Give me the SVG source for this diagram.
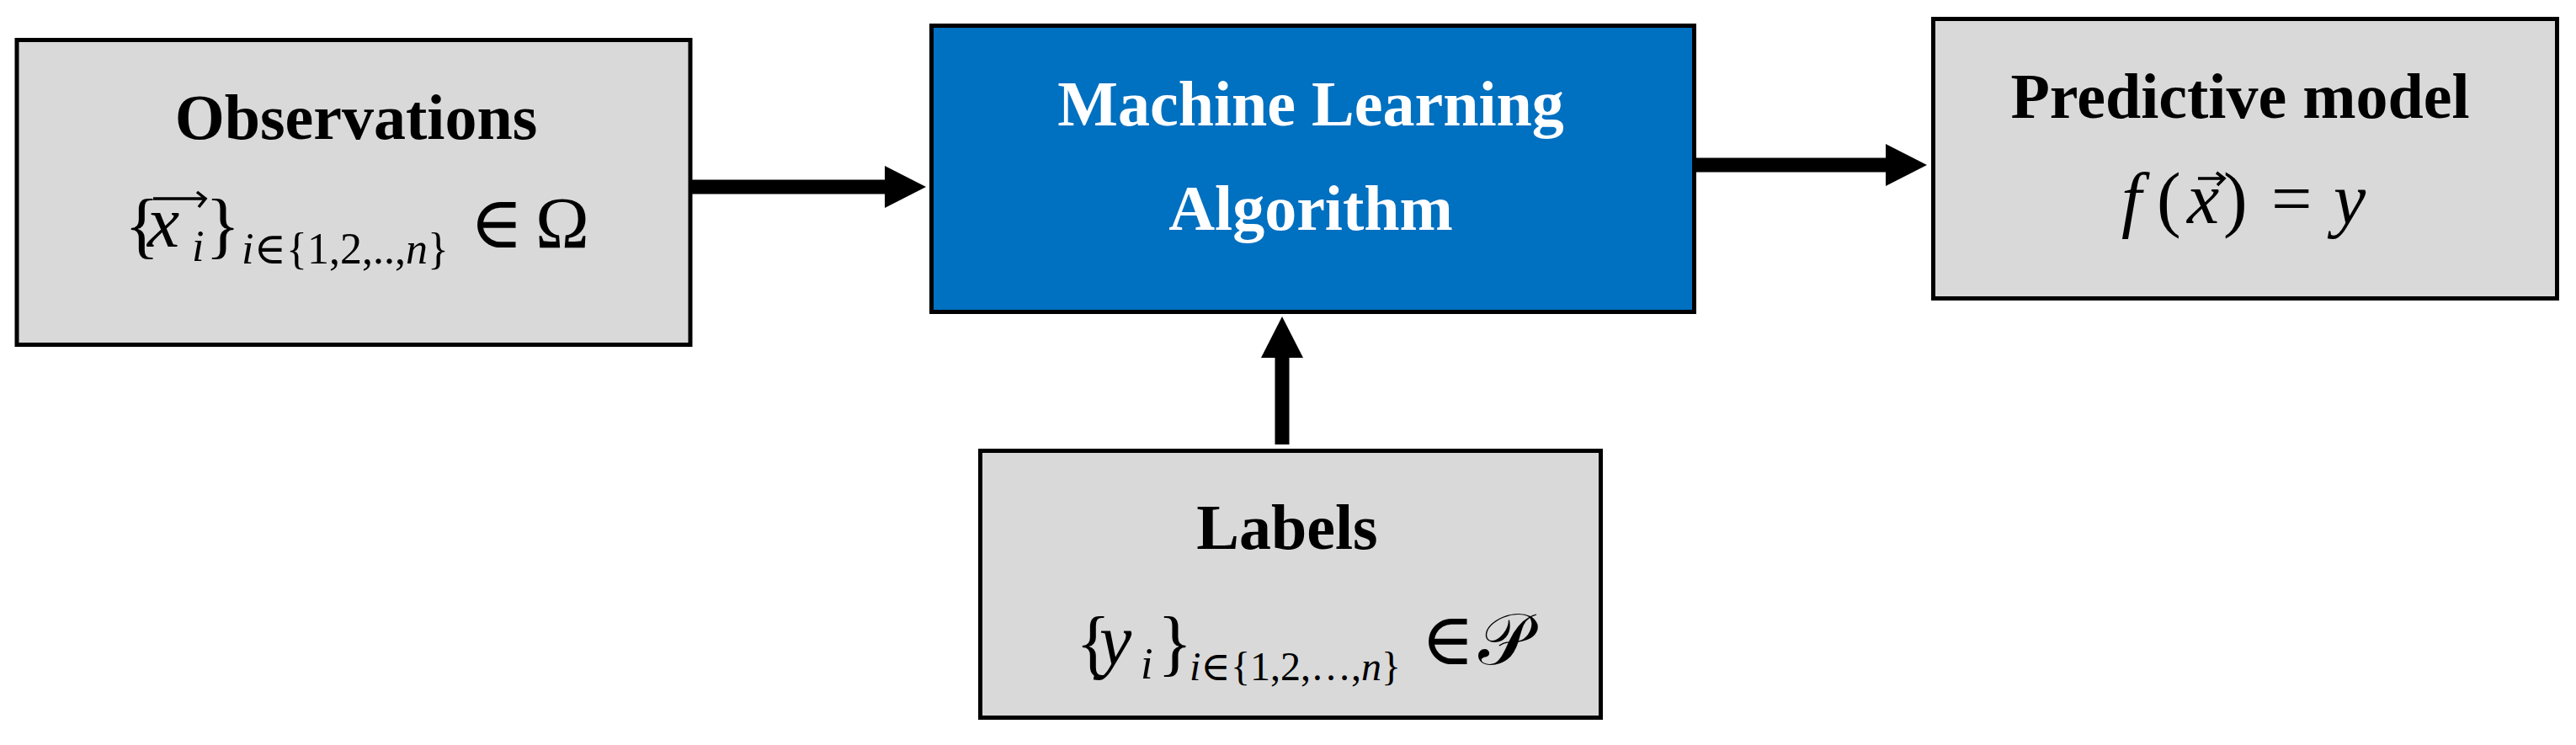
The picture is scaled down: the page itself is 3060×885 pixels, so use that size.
<svg xmlns="http://www.w3.org/2000/svg" width="3060" height="885" viewBox="0 0 3060 885">
<style>
.box{fill:#D9D9D9;stroke:#000;stroke-width:5}
.blue{fill:#0070C0;stroke:#000;stroke-width:5}
.title{font-family:"Liberation Serif","Times New Roman",serif;font-weight:bold;font-size:76px;fill:#000;text-anchor:middle}
.wt{fill:#fff}
.m{font-family:"Liberation Serif","DejaVu Serif",serif;font-size:86px;fill:#000}
.ms{font-size:52px}
.ms2{font-size:48px}
.it{font-style:italic}
.conn{stroke:#000;stroke-width:17;fill:none}
.acc{stroke:#000;stroke-width:3.5;fill:none}
</style>
<defs>
<marker id="ah" viewBox="0 0 49 50" refX="0" refY="25" markerWidth="49" markerHeight="50" markerUnits="userSpaceOnUse" orient="auto">
<path d="M0,0 L49,25 L0,50 Z" fill="#000"/>
</marker>
</defs>
<rect width="3060" height="885" fill="#fff"/>
<g id="connectors">
<path class="conn" d="M822,222 L1051,222" marker-end="url(#ah)"/>
<path class="conn" d="M2015,196 L2240,196" marker-end="url(#ah)"/>
<path class="conn" d="M1523,528 L1523,425" marker-end="url(#ah)"/>
</g>
<g id="observations">
<rect class="box" x="20" y="47.5" width="800" height="362"/>
<text class="title" x="423" y="165">Observations</text>
<text class="m" y="296"><tspan x="148">{</tspan><tspan class="it" x="175" y="293">x</tspan><tspan class="it ms" x="228" y="310">i</tspan><tspan x="244" y="296">}</tspan><tspan class="ms" x="287" y="313"><tspan class="it">i</tspan>∈{1,2,..,<tspan class="it">n</tspan>}</tspan><tspan x="558" y="294">∈</tspan><tspan x="636" y="294">Ω</tspan></text>
<path class="acc" d="M182,236 L243,236 M234,228 L244,236 L236,246"/>
</g>
<g id="ml-algorithm">
<rect class="blue" x="1106.5" y="30.5" width="906" height="340"/>
<text class="title wt" x="1557" y="149">Machine Learning</text>
<text class="title wt" x="1557" y="273">Algorithm</text>
</g>
<g id="predictive-model">
<rect class="box" x="2296.5" y="22.5" width="741" height="332"/>
<text class="title" x="2661" y="140">Predictive model</text>
<text class="m" y="265"><tspan class="it" x="2520">f</tspan><tspan x="2562">(</tspan><tspan class="it" x="2598">x</tspan><tspan x="2641">)</tspan><tspan x="2698">=</tspan><tspan class="it" x="2772">y</tspan></text>
<path class="acc" d="M2611,212 L2641,212 M2633,205 L2642,212 L2634,220"/>
</g>
<g id="labels">
<rect class="box" x="1164.5" y="535.5" width="737" height="317"/>
<text class="title" x="1529" y="652">Labels</text>
<text class="m" y="792"><tspan x="1278">{</tspan><tspan class="it" x="1306" y="789">y</tspan><tspan class="it ms" x="1355" y="806">i</tspan><tspan x="1375" y="792">}</tspan><tspan class="ms2" x="1413" y="808"><tspan class="it">i</tspan>∈{1,2,…,<tspan class="it">n</tspan>}</tspan><tspan x="1688" y="789">∈</tspan><tspan x="1756" y="789" font-family="DejaVu Sans, DejaVu Serif, Noto Sans, serif">𝒫</tspan></text>
</g>
</svg>
